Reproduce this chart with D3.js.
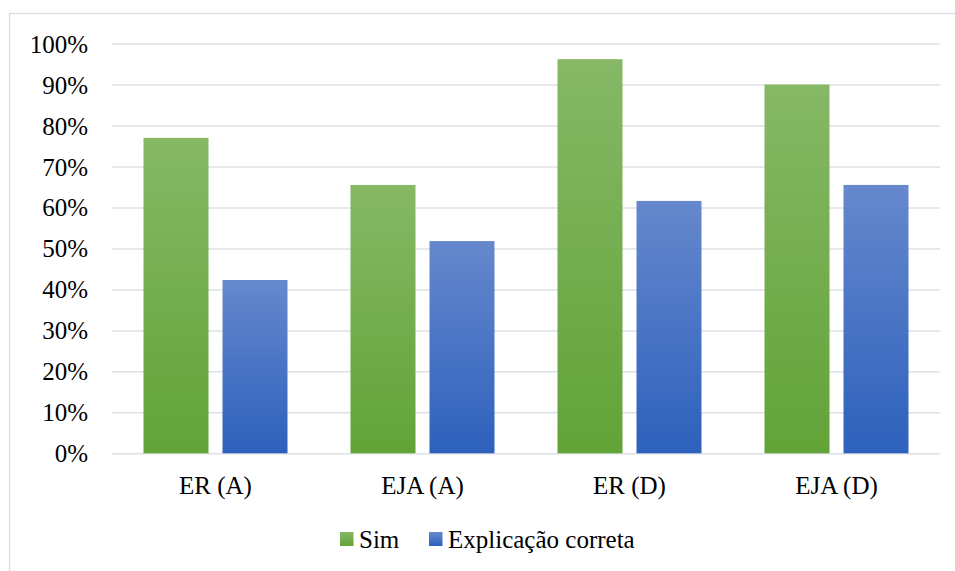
<!DOCTYPE html>
<html>
<head>
<meta charset="utf-8">
<script src="https://cdn.jsdelivr.net/npm/d3@7"></script>
<style>
  html, body { margin: 0; padding: 0; background: #fff; }
  svg { display: block; }
</style>
</head>
<body>
<svg id="chart" width="955" height="571"></svg>
<script>
// Categories, series and values (fractions of 1)
const categories = ["ER (A)", "EJA (A)", "ER (D)", "EJA (D)"];
const seriesNames = ["Sim", "Explicação correta"];
const simValues = [0.77, 0.655, 0.962, 0.90];
const explicacaoValues = [0.423, 0.518, 0.616, 0.655];
const yTicks = [0, 0.1, 0.2, 0.3, 0.4, 0.5, 0.6, 0.7, 0.8, 0.9, 1.0];

const FONT = "'Liberation Serif', Tinos, 'Noto Serif', 'DejaVu Serif', FreeSerif, 'Nimbus Roman', 'Nimbus Roman No9 L', Times, serif";

const rows = categories.map((c, i) => ({
  category: c,
  values: [
    { series: seriesNames[0], value: simValues[i] },
    { series: seriesNames[1], value: explicacaoValues[i] }
  ]
}));

const svg = d3.select("#chart");

// Vertical gradients for each series, applied per bar
const defs = svg.append("defs");
const gradStops = {
  "Sim": ["#86b866", "#62a337"],
  "Explicação correta": ["#6688cd", "#2d61bc"]
};
const gradId = s => s === "Sim" ? "gSim" : "gExp";
seriesNames.forEach(s => {
  const g = defs.append("linearGradient")
    .attr("id", gradId(s))
    .attr("x1", 0).attr("y1", 0).attr("x2", 0).attr("y2", 1);
  g.append("stop").attr("offset", "0%").attr("stop-color", gradStops[s][0]);
  g.append("stop").attr("offset", "100%").attr("stop-color", gradStops[s][1]);
});

// Outer chart frame
svg.append("rect")
  .attr("x", 9.5).attr("y", 13.5)
  .attr("width", 960).attr("height", 600)
  .attr("fill", "none")
  .attr("stroke", "#dadde2")
  .attr("stroke-width", 1.3);

const plot = { left: 112, right: 940, top: 43.6, bottom: 453.3 };

const x0 = d3.scaleBand().domain(categories).range([plot.left, plot.right]).padding(0);
const groupWidth = 144;
const x1 = d3.scaleBand().domain(seriesNames).range([0, groupWidth])
  .paddingInner(14 / 79).paddingOuter(0);
const y = d3.scaleLinear().domain([0, 1]).range([plot.bottom, plot.top]);

// Horizontal gridlines and percentage labels
const yAxis = d3.axisLeft(y)
  .tickValues(yTicks)
  .tickSize(-(plot.right - plot.left))
  .tickPadding(24)
  .tickFormat(d => Math.round(d * 100) + "%");

const gy = svg.append("g")
  .attr("transform", `translate(${plot.left},0)`)
  .call(yAxis);
gy.select(".domain").remove();
gy.selectAll(".tick line")
  .attr("stroke", "#dde1e7")
  .attr("stroke-width", 1.5);
gy.selectAll(".tick text")
  .style("font-family", FONT)
  .style("font-size", "25px")
  .attr("fill", "#000")
  .attr("dy", "0.34em")
  .attr("x", -24);

// Bars
const groups = svg.append("g").selectAll("g")
  .data(rows)
  .join("g")
  .attr("transform", d => `translate(${x0(d.category) + (x0.bandwidth() - groupWidth) / 2},0)`);

groups.selectAll("rect")
  .data(d => d.values)
  .join("rect")
  .attr("x", d => x1(d.series))
  .attr("y", d => y(d.value))
  .attr("width", x1.bandwidth())
  .attr("height", d => y(0) - y(d.value))
  .attr("fill", d => `url(#${gradId(d.series)})`);

// Category labels
const xAxis = d3.axisBottom(x0).tickSize(0).tickPadding(0);
const gx = svg.append("g")
  .attr("transform", `translate(0,${plot.bottom})`)
  .call(xAxis);
gx.select(".domain").remove();
gx.selectAll(".tick text")
  .style("font-family", FONT)
  .style("font-size", "25px")
  .attr("fill", "#000")
  .attr("dy", 0)
  .attr("y", 41);

// Legend
const legend = svg.append("g").attr("transform", "translate(0,548)");
const legendItems = [
  { name: seriesNames[0], x: 340 },
  { name: seriesNames[1], x: 429 }
];
const li = legend.selectAll("g").data(legendItems).join("g")
  .attr("transform", d => `translate(${d.x},0)`);
li.append("rect")
  .attr("x", 0).attr("y", -16)
  .attr("width", 13.5).attr("height", 14)
  .attr("fill", d => `url(#${gradId(d.name)})`);
li.append("text")
  .attr("x", 19).attr("y", 0)
  .style("font-family", FONT)
  .style("font-size", "25px")
  .attr("fill", "#000")
  .text(d => d.name);
</script>
</body>
</html>
